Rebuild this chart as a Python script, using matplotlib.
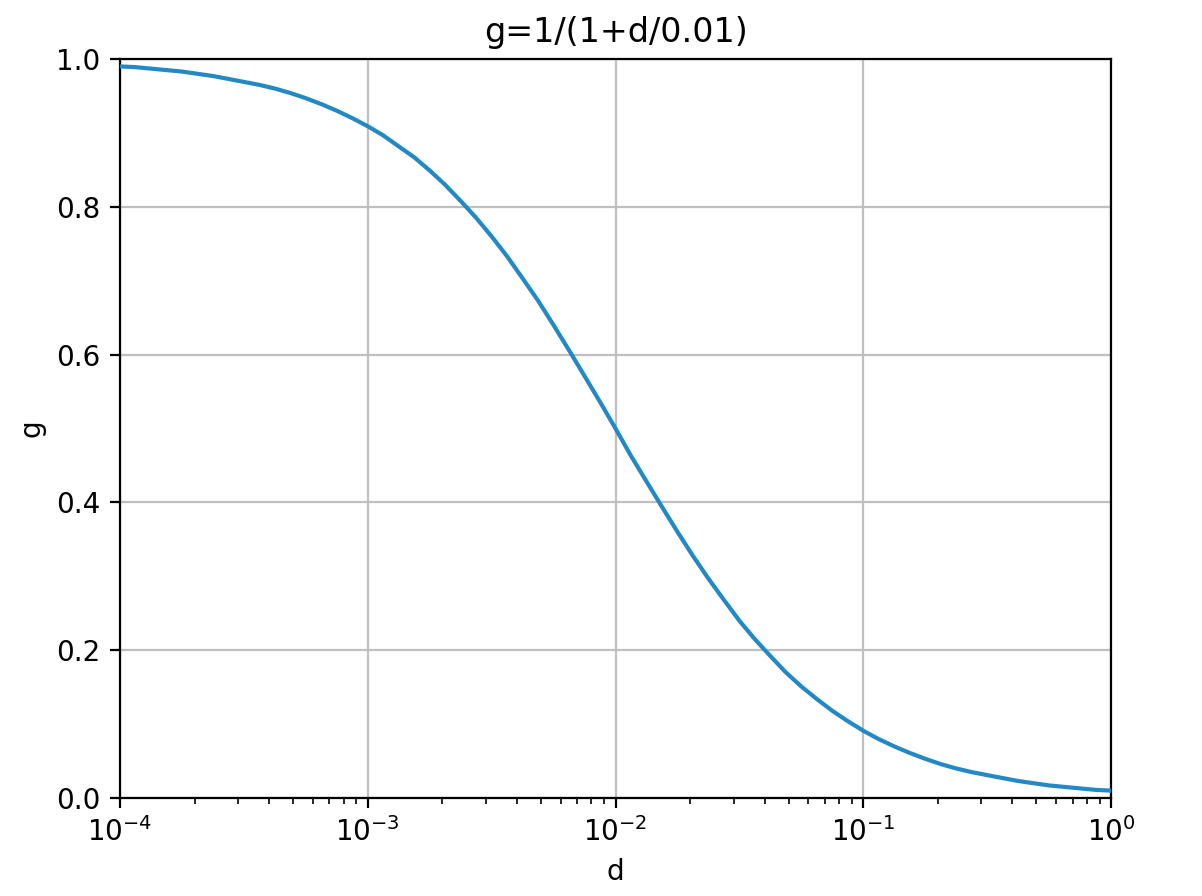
import matplotlib
matplotlib.use('Agg')
import matplotlib.pyplot as plt

# values, about 16 points per decade
d = [1.00e-4, 1.15e-4, 1.33e-4, 1.54e-4, 1.78e-4, 2.05e-4, 2.37e-4, 2.74e-4,
     3.16e-4, 3.65e-4, 4.22e-4, 4.87e-4, 5.62e-4, 6.49e-4, 7.50e-4, 8.66e-4,
     1.00e-3, 1.15e-3, 1.33e-3, 1.54e-3, 1.78e-3, 2.05e-3, 2.37e-3, 2.74e-3,
     3.16e-3, 3.65e-3, 4.22e-3, 4.87e-3, 5.62e-3, 6.49e-3, 7.50e-3, 8.66e-3,
     1.00e-2, 1.15e-2, 1.33e-2, 1.54e-2, 1.78e-2, 2.05e-2, 2.37e-2, 2.74e-2,
     3.16e-2, 3.65e-2, 4.22e-2, 4.87e-2, 5.62e-2, 6.49e-2, 7.50e-2, 8.66e-2,
     1.00e-1, 1.15e-1, 1.33e-1, 1.54e-1, 1.78e-1, 2.05e-1, 2.37e-1, 2.74e-1,
     3.16e-1, 3.65e-1, 4.22e-1, 4.87e-1, 5.62e-1, 6.49e-1, 7.50e-1, 8.66e-1,
     1.00]
g = [0.990, 0.989, 0.987, 0.985, 0.983, 0.980, 0.977, 0.973,
     0.969, 0.965, 0.960, 0.954, 0.947, 0.939, 0.930, 0.920,
     0.909, 0.897, 0.882, 0.867, 0.849, 0.830, 0.808, 0.785,
     0.760, 0.733, 0.703, 0.673, 0.640, 0.606, 0.571, 0.536,
     0.500, 0.464, 0.429, 0.394, 0.360, 0.328, 0.297, 0.268,
     0.240, 0.215, 0.192, 0.170, 0.151, 0.134, 0.118, 0.104,
     0.091, 0.080, 0.070, 0.061, 0.053, 0.046, 0.040, 0.035,
     0.031, 0.027, 0.023, 0.020, 0.017, 0.015, 0.013, 0.011,
     0.010]

fig = plt.figure(figsize=(6.01, 4.48), dpi=200)
ax = fig.add_axes([120/1202, 98/896, 991/1202, 739/896])

ax.plot(d, g, color='#2289c5', linewidth=1.5, zorder=3)
ax.set_xscale('log')
ax.set_xlim(1e-4, 1)
ax.set_ylim(0, 1)
ax.grid(True, color='#bfbfbf', linewidth=0.8)
ax.set_xlabel('d')
ax.set_ylabel('g')
ax.set_title('g=1/(1+d/0.01)')

fig.savefig('out.png', dpi=200)
